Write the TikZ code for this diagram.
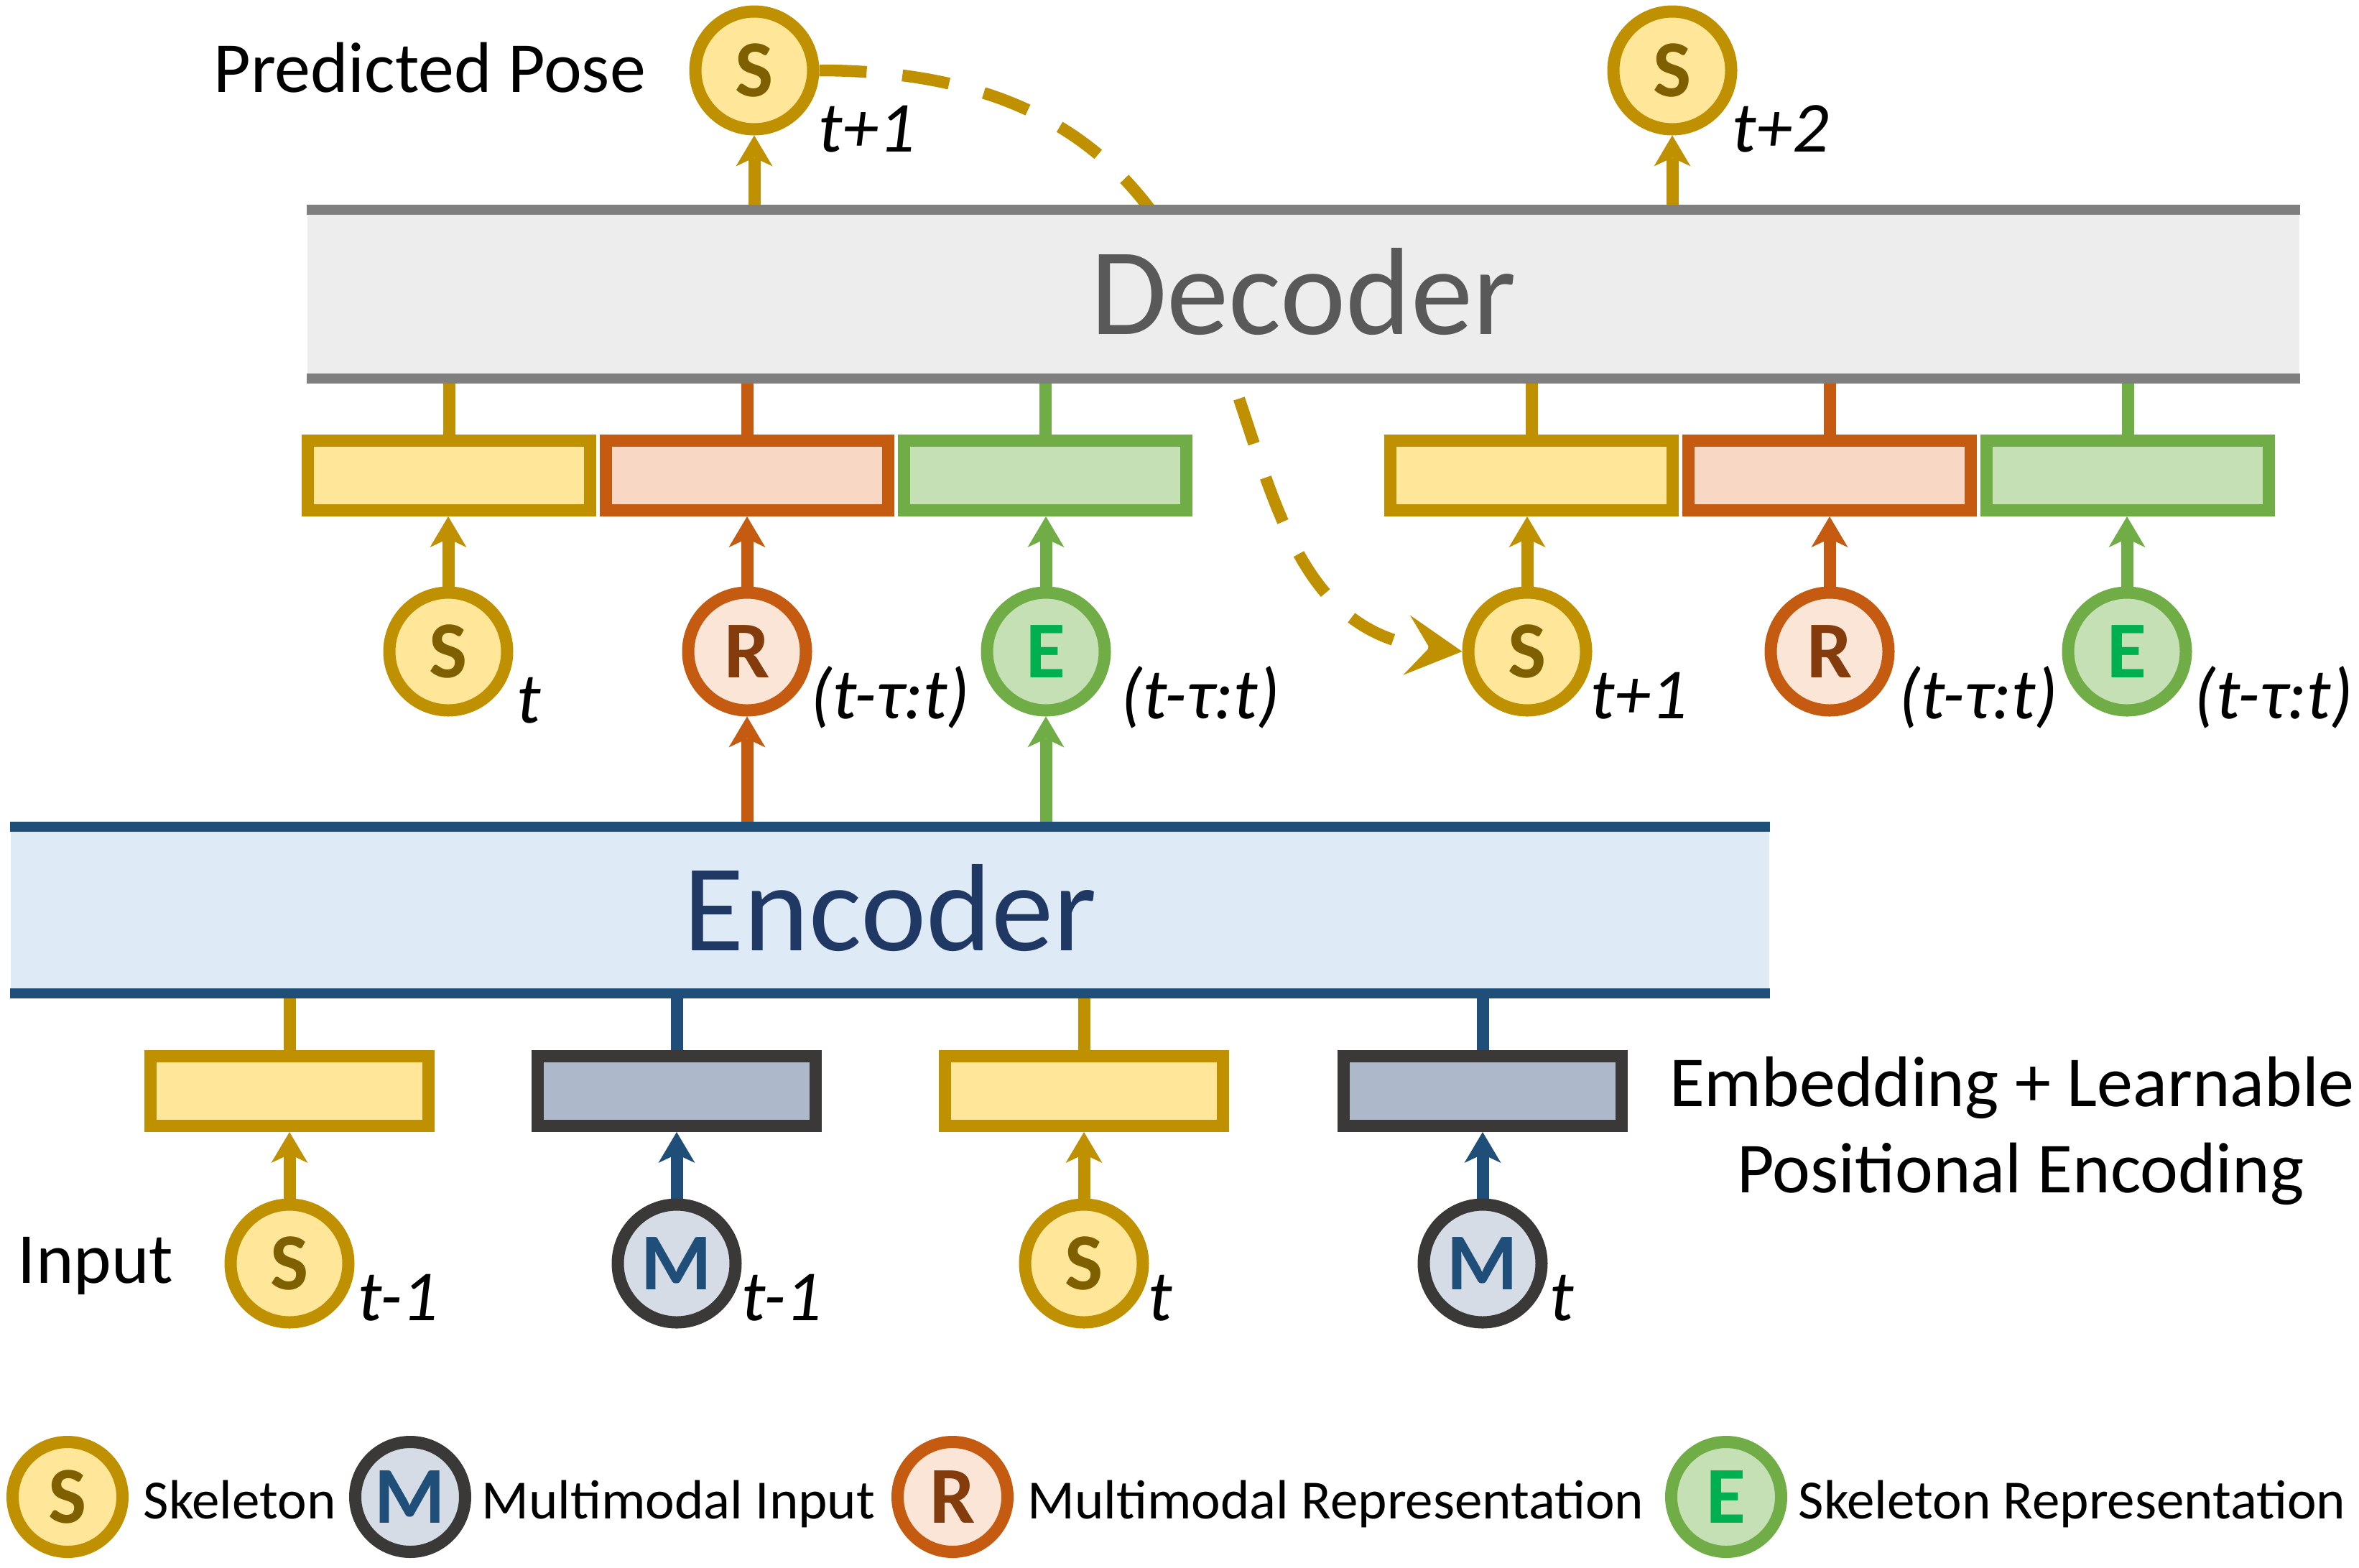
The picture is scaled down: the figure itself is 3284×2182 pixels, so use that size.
\documentclass[tikz,border=0pt]{standalone}
\usepackage{fontspec}
\setmainfont{Carlito}
\usetikzlibrary{positioning,arrows.meta,backgrounds}
\definecolor{skD}{HTML}{BF9000}
\definecolor{skL}{HTML}{FFE699}
\definecolor{skT}{HTML}{7F6000}
\definecolor{mmD}{HTML}{3B3838}
\definecolor{mmL}{HTML}{D6DCE5}
\definecolor{mmB}{HTML}{ADB9CA}
\definecolor{mmT}{HTML}{1F4E79}
\definecolor{mrD}{HTML}{C55A11}
\definecolor{mrL}{HTML}{FBE5D6}
\definecolor{mrB}{HTML}{F8D8C4}
\definecolor{mrT}{HTML}{843C0C}
\definecolor{srD}{HTML}{70AD47}
\definecolor{srL}{HTML}{C5E0B4}
\definecolor{srT}{HTML}{00B050}
\definecolor{encF}{HTML}{DEEBF7}
\definecolor{encD}{HTML}{1F4E79}
\definecolor{encT}{HTML}{203864}
\definecolor{decF}{HTML}{EDEDED}
\definecolor{decD}{HTML}{7F7F7F}
\definecolor{decT}{HTML}{595959}
\newcommand{\win}{(t-τ:t)}
\newcommand{\txtfnt}{\fontsize{28.45pt}{34pt}\selectfont}
\newcommand{\labfnt}{\fontsize{28.45pt}{34pt}\selectfont\itshape}
\newcommand{\bigfnt}{\fontsize{49.2pt}{59pt}\selectfont}
\newcommand{\symfnt}{\fontsize{32pt}{38pt}\selectfont\bfseries}
\newcommand{\legfnt}{\fontsize{21.9pt}{26pt}\selectfont}

\begin{document}
\begin{tikzpicture}
        [x=0.1mm, y=0.1mm,
        sym/.style={circle, line width=1.7mm, minimum size=16.4mm, inner sep=0pt, font=\symfnt},
        symS/.style={sym, draw=skD, fill=skL, text=skT},
        symM/.style={sym, draw=mmD, fill=mmL, text=mmT},
        symR/.style={sym, draw=mrD, fill=mrL, text=mrT},
        symE/.style={sym, draw=srD, fill=srL, text=srT},
        leg/.style={minimum size=15.3mm},
        blk/.style={rectangle, line width=1.7mm, minimum width=39.3mm, minimum height=9.7mm, inner sep=0pt},
        blkS/.style={blk, draw=skD, fill=skL},
        blkM/.style={blk, draw=mmD, fill=mmB},
        blkR/.style={blk, draw=mrD, fill=mrB},
        blkE/.style={blk, draw=srD, fill=srL},
        emb/.style={minimum width=38.7mm},
        coderbox/.style={rectangle, inner sep=0pt, font=\bigfnt, text height=11.2mm, text depth=0pt},
        lab/.style={font=\labfnt, inner sep=0pt, anchor=base west},
        txt/.style={font=\txtfnt, inner sep=0pt, anchor=base},
        legtxt/.style={font=\legfnt, inner sep=0pt, anchor=base west},
        arr/.style={line width=1.7mm, -{Stealth[length=4.3mm, width=5.1mm, inset=1.2mm, line width=0pt]}},
        lnk/.style={line width=1.7mm},
        bar/.style={line width=1.4mm},
        dsh/.style={skD, line width=1.65mm, dash pattern=on 6.6mm off 5mm,
            -{Stealth[length=7.8mm, width=8.4mm, inset=3.2mm, line width=0pt]}}]
        \useasboundingbox (0,0) rectangle (3284,-2182);
        
        \node [coderbox, fill=decF, text=decT, minimum width=277.3mm, minimum height=23.3mm] (dec) at (1814.5,-409.5) {Decoder};
        \node [coderbox, fill=encF, text=encT, minimum width=244.8mm, minimum height=23mm]   (enc) at (1239,-1267)    {Encoder};
        
        % predicted pose
        \node [symS] (p1) at (1050,-98) {S};
        \node [symS] (p2) at (2328,-98) {S};
        \node [lab]  at (1139,-211) {t+1};
        \node [lab]  at (2411,-211) {t+2};
        \node [txt]  at (598,-128)  {Predicted Pose};
        
        % decoder inputs
        \node [blkS] (bs1) at (625,-662) {};
        \node [blkR] (br1) [right =0.5mm of bs1] {};
        \node [blkE] (be1) [right =0.5mm of br1] {};
        \node [blkS] (bs2) at (2132,-662) {};
        \node [blkR] (br2) [right =0.5mm of bs2] {};
        \node [blkE] (be2) [right =0.5mm of br2] {};
        
        \node [symS] (s1) at (624,-907)  {S};
        \node [symR] (r1) at (1040,-907) {R};
        \node [symE] (e1) at (1456,-907) {E};
        \node [symS] (s2) at (2126,-907) {S};
        \node [symR] (r2) at (2547,-907) {R};
        \node [symE] (e2) at (2961,-907) {E};
        
        \node [lab] at (719,-1006)  {t};
        \node [lab] at (1128,-1000) {\win};
        \node [lab] at (1560,-1000) {\win};
        \node [lab] at (2214,-1000) {t+1};
        \node [lab] at (2643,-1000) {\win};
        \node [lab] at (3054,-1000) {\win};
        
        % encoder inputs
        \node [symS] (s3) at (403,-1759)  {S};
        \node [symM] (m1) at (942,-1759)  {M};
        \node [symS] (s4) at (1509,-1759) {S};
        \node [symM] (m2) at (2064,-1759) {M};
        
        \node [blkS, emb] (bs3) [above =9.25mm of s3] {};
        \node [blkM, emb] (bm1) [above =9.25mm of m1] {};
        \node [blkS, emb] (bs4) [above =9.25mm of s4] {};
        \node [blkM, emb] (bm2) [above =9.25mm of m2] {};
        
        \node [lab] at (498,-1838)  {t-1};
        \node [lab] at (1032,-1838) {t-1};
        \node [lab] at (1598,-1838) {t};
        \node [lab] at (2157,-1838) {t};
        
        \node [txt] at (133,-1786)  {Input};
        \node [txt] at (2801,-1540) {Embedding + Learnable};
        \node [txt] at (2813,-1660) {Positional Encoding};
        
        % legend
        \node [symS, leg] (ls) at (94,-2084)   {S};
        \node [symM, leg] (lm) at (571,-2084)  {M};
        \node [symR, leg] (lr) at (1326,-2084) {R};
        \node [symE, leg] (le) at (2403,-2084) {E};
        \node [legtxt] at (199,-2114)  {Skeleton};
        \node [legtxt] at (670,-2114)  {Multimodal Input};
        \node [legtxt] at (1430,-2114) {Multimodal Representation};
        \node [legtxt] at (2503,-2114) {Skeleton Representation};
        
        \begin{scope}[on background layer]
        \draw[dsh] (p1.east) .. controls (1880,-98) and (1610,-858) .. (s2.west);
        
        \draw[arr, skD] (p1 |- dec.north) -- (p1);
        \draw[arr, skD] (p2 |- dec.north) -- (p2);
        
        \draw[lnk, skD] (bs1) -- (bs1 |- dec.south);
        \draw[lnk, mrD] (br1) -- (br1 |- dec.south);
        \draw[lnk, srD] (be1) -- (be1 |- dec.south);
        \draw[lnk, skD] (bs2) -- (bs2 |- dec.south);
        \draw[lnk, mrD] (br2) -- (br2 |- dec.south);
        \draw[lnk, srD] (be2) -- (be2 |- dec.south);
        
        \draw[arr, skD] (s1) -- (s1 |- bs1.south);
        \draw[arr, mrD] (r1) -- (r1 |- br1.south);
        \draw[arr, srD] (e1) -- (e1 |- be1.south);
        \draw[arr, skD] (s2) -- (s2 |- bs2.south);
        \draw[arr, mrD] (r2) -- (r2 |- br2.south);
        \draw[arr, srD] (e2) -- (e2 |- be2.south);
        
        \draw[arr, mrD] (r1 |- enc.north) -- (r1);
        \draw[arr, srD] (e1 |- enc.north) -- (e1);
        
        \draw[lnk, skD] (bs3) -- (bs3 |- enc.south);
        \draw[lnk, mmT] (bm1) -- (bm1 |- enc.south);
        \draw[lnk, skD] (bs4) -- (bs4 |- enc.south);
        \draw[lnk, mmT] (bm2) -- (bm2 |- enc.south);
        
        \draw[arr, skD] (s3) -- (bs3);
        \draw[arr, mmT] (m1) -- (bm1);
        \draw[arr, skD] (s4) -- (bs4);
        \draw[arr, mmT] (m2) -- (bm2);
        \end{scope}
        
        \draw[bar, decD] (dec.north west) -- (dec.north east);
        \draw[bar, decD] (dec.south west) -- (dec.south east);
        \draw[bar, encD] (enc.north west) -- (enc.north east);
        \draw[bar, encD] (enc.south west) -- (enc.south east);
        \end{tikzpicture}
\end{document}
